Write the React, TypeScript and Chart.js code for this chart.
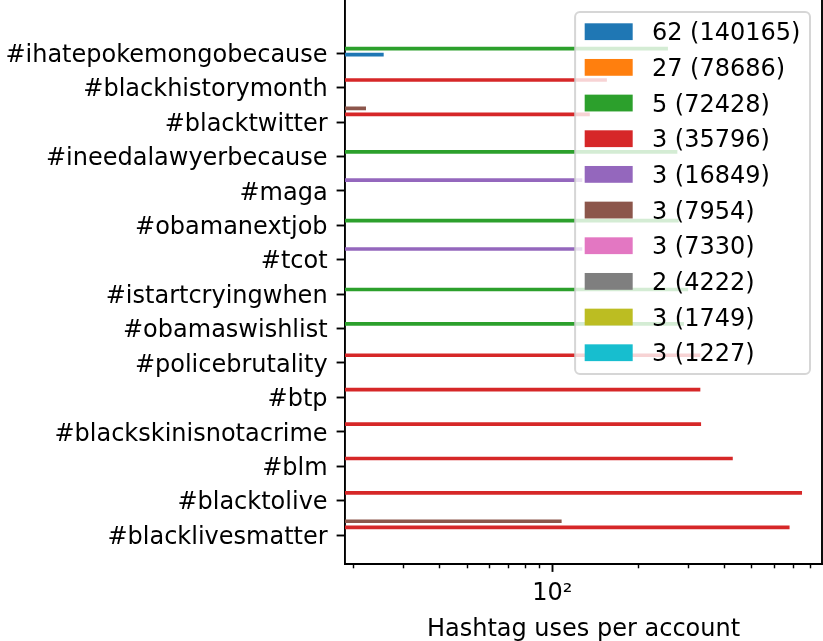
import React, { useEffect, useRef } from 'react';
import { Chart, registerables } from 'chart.js';

Chart.register(...registerables);

// ---------- data ----------
const categories = [
  '#ihatepokemongobecause',
  '#blackhistorymonth',
  '#blacktwitter',
  '#ineedalawyerbecause',
  '#maga',
  '#obamanextjob',
  '#tcot',
  '#istartcryingwhen',
  '#obamaswishlist',
  '#policebrutality',
  '#btp',
  '#blackskinisnotacrime',
  '#blm',
  '#blacktolive',
  '#blacklivesmatter',
];

const seriesLabels = [
  '62 (140165)',
  '27 (78686)',
  '5 (72428)',
  '3 (35796)',
  '3 (16849)',
  '3 (7954)',
  '3 (7330)',
  '2 (4222)',
  '3 (1749)',
  '3 (1227)',
];

const seriesColors = [
  '#1f77b4', '#ff7f0e', '#2ca02c', '#d62728', '#9467bd',
  '#8c564b', '#e377c2', '#7f7f7f', '#bcbd22', '#17becf',
];

const _ = null;
//              poke  bhm   btw   lawy  maga  onj   tcot  cry   owl   pol   btp   bsnc  blm   b2l   blmat
const s0 = [25.5, _, _, _, _, _, _, _, _, _, _, _, _, _, _];
const s1 = [_, _, _, _, _, _, _, _, _, _, _, _, _, _, _];
const s2 = [254, _, _, 274, _, 277, _, 299, 289, _, _, _, _, _, _];
const s3 = [_, 155, 135, _, _, _, _, _, _, 330, 330, 332, 429, 751, 679];
const s4 = [_, _, _, _, 127, _, 127, _, _, _, _, _, _, _, _];
const s5 = [_, _, 22.1, _, _, _, _, _, _, _, _, _, _, _, 107.5];
const s6 = [_, _, _, _, _, _, _, _, _, _, _, _, _, _, _];
const s7 = [_, _, _, _, _, _, _, _, _, _, _, _, _, _, _];
const s8 = [_, _, _, _, _, _, _, _, _, _, _, _, _, _, _];
const s9 = [_, _, _, _, _, _, _, _, _, _, _, _, _, _, _];
const seriesValues = [s0, s1, s2, s3, s4, s5, s6, s7, s8, s9];

const xTickValues = [20, 30, 40, 50, 60, 70, 80, 90, 100, 200, 300, 400, 500, 600, 700, 800];
const xMajorTicks = [100];
const xTickLabels: Record<number, string> = { 100: '10²' };
const xAxisTitle = 'Hashtag uses per account';
const xMin = 18.7;
const xMax = 885;

// ---------- style / layout ----------
const FONT = "'DejaVu Sans', sans-serif";
const FS = 24;
const Y_MIN = -1.192;
const Y_MAX = 15.184;
const LABEL_SHIFT = 0.357;
const BAR_THICK = 3.04;

const decorPlugin = {
  id: 'decor',
  afterDraw(chart: any) {
    const ctx: CanvasRenderingContext2D = chart.ctx;
    const area = chart.chartArea;
    const xs = chart.scales.x;
    ctx.save();
    // minor ticks
    ctx.strokeStyle = '#000';
    ctx.lineWidth = 1.44;
    xs.ticks.forEach((t: any) => {
      if (!t.major) {
        const px = Math.round(xs.getPixelForValue(t.value)) + 0.5;
        ctx.beginPath();
        ctx.moveTo(px, area.bottom);
        ctx.lineTo(px, area.bottom + 4.8);
        ctx.stroke();
      }
    });
    // right spine
    ctx.lineWidth = 1.9;
    ctx.beginPath();
    ctx.moveTo(area.right, area.top);
    ctx.lineTo(area.right, area.bottom);
    ctx.stroke();

    // legend
    ctx.font = `${FS}px ${FONT}`;
    const textW = Math.max(...seriesLabels.map((l) => ctx.measureText(l).width));
    const pad = 0.4 * FS;
    const handleLen = 2 * FS;
    const handleH = 0.7 * FS;
    const textPad = 0.8 * FS;
    const boxW = pad * 2 + handleLen + textPad + textW;
    const right = area.right - 0.5 * FS;
    const left = right - boxW;
    const top = area.top + 12;
    const rowH = 35.67;
    const boxH = 362;
    ctx.beginPath();
    (ctx as any).roundRect(left, top, boxW, boxH, 4.8);
    ctx.fillStyle = 'rgba(255,255,255,0.8)';
    ctx.fill();
    ctx.strokeStyle = 'rgba(204,204,204,0.8)';
    ctx.lineWidth = 2;
    ctx.stroke();
    ctx.textAlign = 'left';
    ctx.textBaseline = 'alphabetic';
    seriesLabels.forEach((lab, i) => {
      const cy = top + 19.7 + i * rowH;
      ctx.fillStyle = seriesColors[i];
      ctx.fillRect(left + pad, cy - handleH / 2, handleLen, handleH);
      ctx.fillStyle = '#000';
      ctx.fillText(lab, left + pad + handleLen + textPad, cy + 0.729 * FS / 2);
    });
    ctx.restore();
  },
};

export default function App() {
  const ref = useRef<HTMLCanvasElement | null>(null);
  useEffect(() => {
    if (!ref.current) return;
    Chart.defaults.font.family = FONT;
    Chart.defaults.font.size = FS;
    Chart.defaults.color = '#000';

    // datasets listed last-series-first so that series 0 sits at the bottom of each group
    const datasets = seriesValues
      .map((vals, i) => ({
        label: seriesLabels[i],
        data: vals
          .map((v, k) => (v === null ? null : { x: v, y: k }))
          .filter((p) => p !== null) as any[],
        backgroundColor: seriesColors[i],
        borderWidth: 0,
        barThickness: BAR_THICK,
        grouped: true,
      }))
      .reverse();

    const chart = new Chart(ref.current, {
      type: 'bar',
      data: { datasets },
      plugins: [decorPlugin],
      options: {
        responsive: false,
        animation: false,
        indexAxis: 'y',
        layout: { padding: { left: 0, right: 1, top: 0, bottom: 0 } },
        plugins: { legend: { display: false }, tooltip: { enabled: false } },
        scales: {
          x: {
            type: 'logarithmic',
            position: 'bottom',
            min: xMin,
            max: xMax,
            afterBuildTicks: (s: any) => {
              s.ticks = xTickValues.map((v) => ({ value: v, major: xMajorTicks.includes(v) }));
            },
            afterFit: (s: any) => {
              s.height = 77.5;
              s.paddingLeft = 0;
              s.paddingRight = 0;
            },
            grid: {
              display: true,
              drawOnChartArea: false,
              drawTicks: true,
              tickLength: 8.4,
              tickWidth: 1.9,
              tickColor: (c: any) => (c.tick && c.tick.major ? '#000' : 'rgba(0,0,0,0)'),
            },
            border: { display: true, color: '#000', width: 1.9 },
            ticks: {
              autoSkip: false,
              maxRotation: 0,
              minRotation: 0,
              color: '#000',
              font: { size: FS, family: FONT },
              padding: 7,
              callback: (v: any) => xTickLabels[v as number] ?? '',
            },
            title: {
              display: true,
              text: xAxisTitle,
              color: '#000',
              font: { size: FS, family: FONT },
              padding: { top: 0, bottom: -3 },
            },
          },
          y: {
            type: 'linear',
            reverse: true,
            offset: false,
            min: Y_MIN,
            max: Y_MAX,
            afterBuildTicks: (s: any) => {
              s.ticks = categories.map((_c, k) => ({ value: k + LABEL_SHIFT }));
            },
            afterFit: (s: any) => {
              s.width = 345;
              s.paddingTop = 0;
              s.paddingBottom = 0;
            },
            grid: {
              display: true,
              offset: false,
              drawOnChartArea: false,
              drawTicks: true,
              tickLength: 8.4,
              tickWidth: 1.9,
              tickColor: '#000',
            },
            border: { display: true, color: '#000', width: 1.9 },
            ticks: {
              autoSkip: false,
              color: '#000',
              font: { size: FS, family: FONT },
              padding: 9,
              labelOffset: 2.5,
              callback: (_v: any, i: number) => categories[i],
            },
          },
        },
      } as any,
    });
    return () => chart.destroy();
  }, []);

  return (
    <div style={{ position: 'absolute', left: 0, top: 0, width: 823, height: 641, background: '#fff' }}>
      <canvas ref={ref} width={823} height={641} style={{ display: 'block' }} />
    </div>
  );
}
